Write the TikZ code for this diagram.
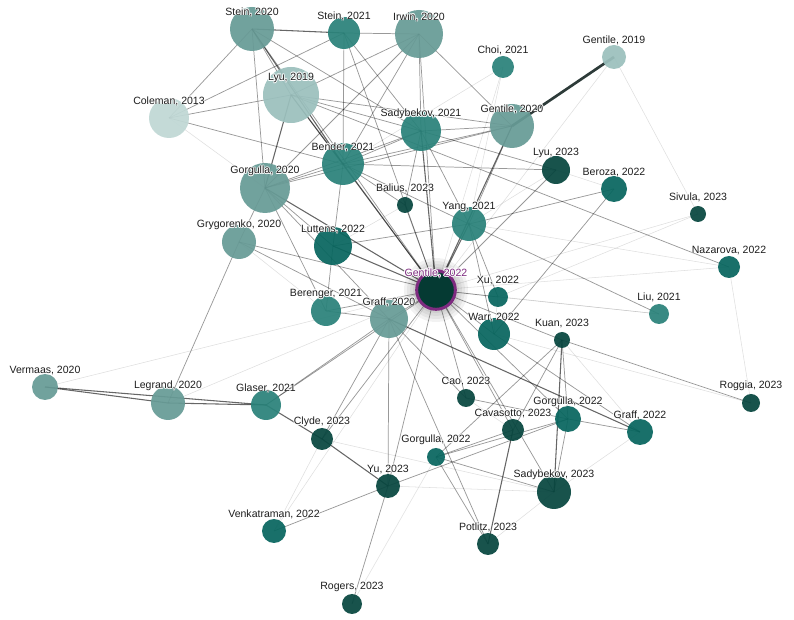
\documentclass[tikz,border=0pt]{standalone}
\usepackage{fontspec}
\setmainfont{Liberation Sans}
\usepackage{xcolor}
\usepackage{tikz}
\usetikzlibrary{backgrounds}
\definecolor{yr13}{HTML}{C0D8D5}
\definecolor{yr19}{HTML}{9BC0BD}
\definecolor{yr20}{HTML}{679B96}
\definecolor{yr21}{HTML}{2A827A}
\definecolor{yr22}{HTML}{08665F}
\definecolor{yr23}{HTML}{07463F}
\definecolor{mainpaper}{HTML}{053A33}
\definecolor{ringpurple}{HTML}{7E2B80}
\definecolor{labelgray}{HTML}{1E1E1E}
\definecolor{boldedge}{HTML}{2D3B39}

\begin{document}
\begin{tikzpicture}[x=0.75pt, y=-0.75pt,
    paper/.style={circle, inner sep=0pt, fill opacity=0.93},
    lbl/.style={font=\fontsize{7.9}{9}\selectfont, text=labelgray, inner sep=0.5pt},
    heavy/.style={black, line width=0.8pt, opacity=0.6},
    medium/.style={black, line width=0.55pt, opacity=0.4},
    faint/.style={black, line width=0.4pt, opacity=0.13}]
	\useasboundingbox (0,0) rectangle (794,620);
	\foreach \n/\x/\y/\r/\c/\t in {
		st20/252/29/22/yr20/{Stein, 2020}, st21/344/33/16/yr21/{Stein, 2021},
		ir20/419/34/24/yr20/{Irwin, 2020}, ch21/503/67/11/yr21/{Choi, 2021},
		ge19/614/57/12/yr19/{Gentile, 2019}, co13/169/118/20/yr13/{Coleman, 2013},
		ly19/291/95/28/yr19/{Lyu, 2019}, sa21/421/131/20/yr21/{Sadybekov, 2021},
		ge20/512/126/22/yr20/{Gentile, 2020}, be21/343/164/21/yr21/{Bender, 2021},
		go20/265/188/25/yr20/{Gorgulla, 2020}, ba23/405/205/8/yr23/{Balius, 2023},
		ly23/556/170/14/yr23/{Lyu, 2023}, br22/614/189/13/yr22/{Beroza, 2022},
		si23/698/214/8/yr23/{Sivula, 2023}, ya21/469/224/17/yr21/{Yang, 2021},
		gr20/239/242/17/yr20/{Grygorenko, 2020}, lu22/333/246/19/yr22/{Luttens, 2022},
		na22/729/267/11/yr22/{Nazarova, 2022}, xu22/498/297/10/yr22/{Xu, 2022},
		li21/659/314/10/yr21/{Liu, 2021}, bg21/326/311/15/yr21/{Berenger, 2021},
		gf20/389/319/19/yr20/{Graff, 2020}, wa22/494/334/16/yr22/{Warr, 2022},
		ku23/562/340/8/yr23/{Kuan, 2023}, ve20/45/387/13/yr20/{Vermaas, 2020},
		le20/168/403/17/yr20/{Legrand, 2020}, gl21/266/405/15/yr21/{Glaser, 2021},
		ca23/466/398/9/yr23/{Cao, 2023}, rg23/751/403/9/yr23/{Roggia, 2023},
		gg22/568/419/13/yr22/{Gorgulla, 2022}, cv23/513/430/11/yr23/{Cavasotto, 2023},
		gf22/640/432/13/yr22/{Graff, 2022}, cl23/322/439/11/yr23/{Clyde, 2023},
		gh22/436/457/9/yr22/{Gorgulla, 2022}, yu23/388/486/12/yr23/{Yu, 2023},
		sb23/554/492/17/yr23/{Sadybekov, 2023}, vk22/274/531/12/yr22/{Venkatraman, 2022},
		po23/488/544/11/yr23/{Potlitz, 2023}, rs23/352/604/10/yr23/{Rogers, 2023}}
	{
		\node[paper, fill=\c, minimum size=1.5pt*\r] (\n) at (\x,\y) {};
		\foreach \dx/\dy in {-0.6/0, 0.6/0, 0/-0.6, 0/0.6, -0.45/-0.45, 0.45/0.45, -0.45/0.45, 0.45/-0.45}
			\node[lbl, text=white, text opacity=0.8] at ([xshift=\dx pt, yshift=12.75pt+\dy pt]\n.center) {\t};
		\node[lbl] (\n-l) at ([yshift=12.75pt]\n.center) {\t};
	}
	\node[paper, fill=mainpaper, fill opacity=1, draw=ringpurple, line width=2.25pt, minimum size=29pt] (ge22) at (436,290) {};
	\foreach \dx/\dy in {-0.7/0, 0.7/0, 0/-0.7, 0/0.7, -0.5/-0.5, 0.5/0.5, -0.5/0.5, 0.5/-0.5}
		\node[lbl, text=white] at ([xshift=\dx pt, yshift=12.75pt+\dy pt]ge22.center) {Gentile, 2022};
	\node[lbl, text=ringpurple] (ge22-l) at ([yshift=12.75pt]ge22.center) {Gentile, 2022};
	\begin{scope}[on background layer]
		\fill[white] (0,0) rectangle (794,620);
		\foreach \a/\b in {ge19/si23, si23/xu22, ch21/ya21, ch21/ge22, na22/ya21, li21/xu22,
			li21/ge22, vk22/ge22, vk22/cl23, rs23/gh22, cl23/sb23, po23/sb23, ve20/ge22, le20/ge22,
			gf22/ku23, rg23/na22, br22/ly23, ge19/ge22, co13/go20, sb23/yu23, gr20/bg21, ly23/ya21,
			si23/ge22, rg23/wa22, gf22/sb23, ca23/cv23, xu22/wa22, ba23/lu22, na22/ge22, ch21/be21}
			\draw[faint] (\a.center) -- (\b.center);
		\foreach \a/\b in {st20/co13, co13/ly19, co13/st21, co13/be21, st20/ly19, st20/go20, st20/sa21,
			st21/ir20, st21/be21, st21/sa21, ir20/ge20, ir20/sa21, ir20/be21, ir20/go20, ir20/ly19,
			ly19/sa21, ly19/ge20, ge20/ya21, ge20/sa21, ge20/be21, ge20/go20, sa21/ya21, sa21/be21,
			sa21/go20, be21/go20, be21/ya21, be21/lu22, go20/lu22, go20/bg21, gr20/go20, gr20/ge22,
			gr20/le20, gr20/gf20, lu22/ya21, ya21/br22, ya21/li21, ya21/xu22, ya21/wa22, ge22/xu22,
			ge22/wa22, ge22/gf20, ge22/bg21, ge22/ku23, ge22/ly23, ge22/ba23, ge22/ca23, ge22/cv23,
			ge22/gg22, ge22/sb23, ge22/yu23, ge22/cl23, ge22/gl21, br22/wa22, ku23/gg22, ku23/gh22,
			ku23/cv23, rg23/ku23, ly19/na22, gh22/po23, gh22/cv23, gh22/gg22, gh22/sb23, yu23/vk22,
			yu23/rs23, yu23/gg22, gg22/sb23, gg22/gf22, wa22/gf22, ca23/gg22, ca23/gf20, ly23/sa21,
			ly23/be21, ba23/sa21, ba23/be21, gf20/bg21, gl21/gf20, bg21/lu22, st20/ge22, ly19/ge22,
			ir20/ge22, st21/ge22, go20/gf20, yu23/gf20, po23/gf20, cl23/gf20}
			\draw[medium] (\a.center) -- (\b.center);
		\foreach \a/\b in {ve20/gl21, ve20/le20, le20/gl21, gl21/cl23, cl23/yu23, gf20/gf22, st20/be21,
			ly19/be21, ly19/go20, ge20/ge22, cv23/po23, ku23/sb23, st20/st21, ya21/ge22, sa21/ge22,
			be21/ge22, go20/ge22, lu22/ge22}
			\draw[heavy] (\a.center) -- (\b.center);
		\draw[boldedge, line width=2pt] (ge19.center) -- (ge20.center);
		\foreach \rr in {20,23,26,29,32}
			\fill[black, opacity=0.05] (ge22.center) circle (\rr);
	\end{scope}
\end{tikzpicture}
\end{document}
